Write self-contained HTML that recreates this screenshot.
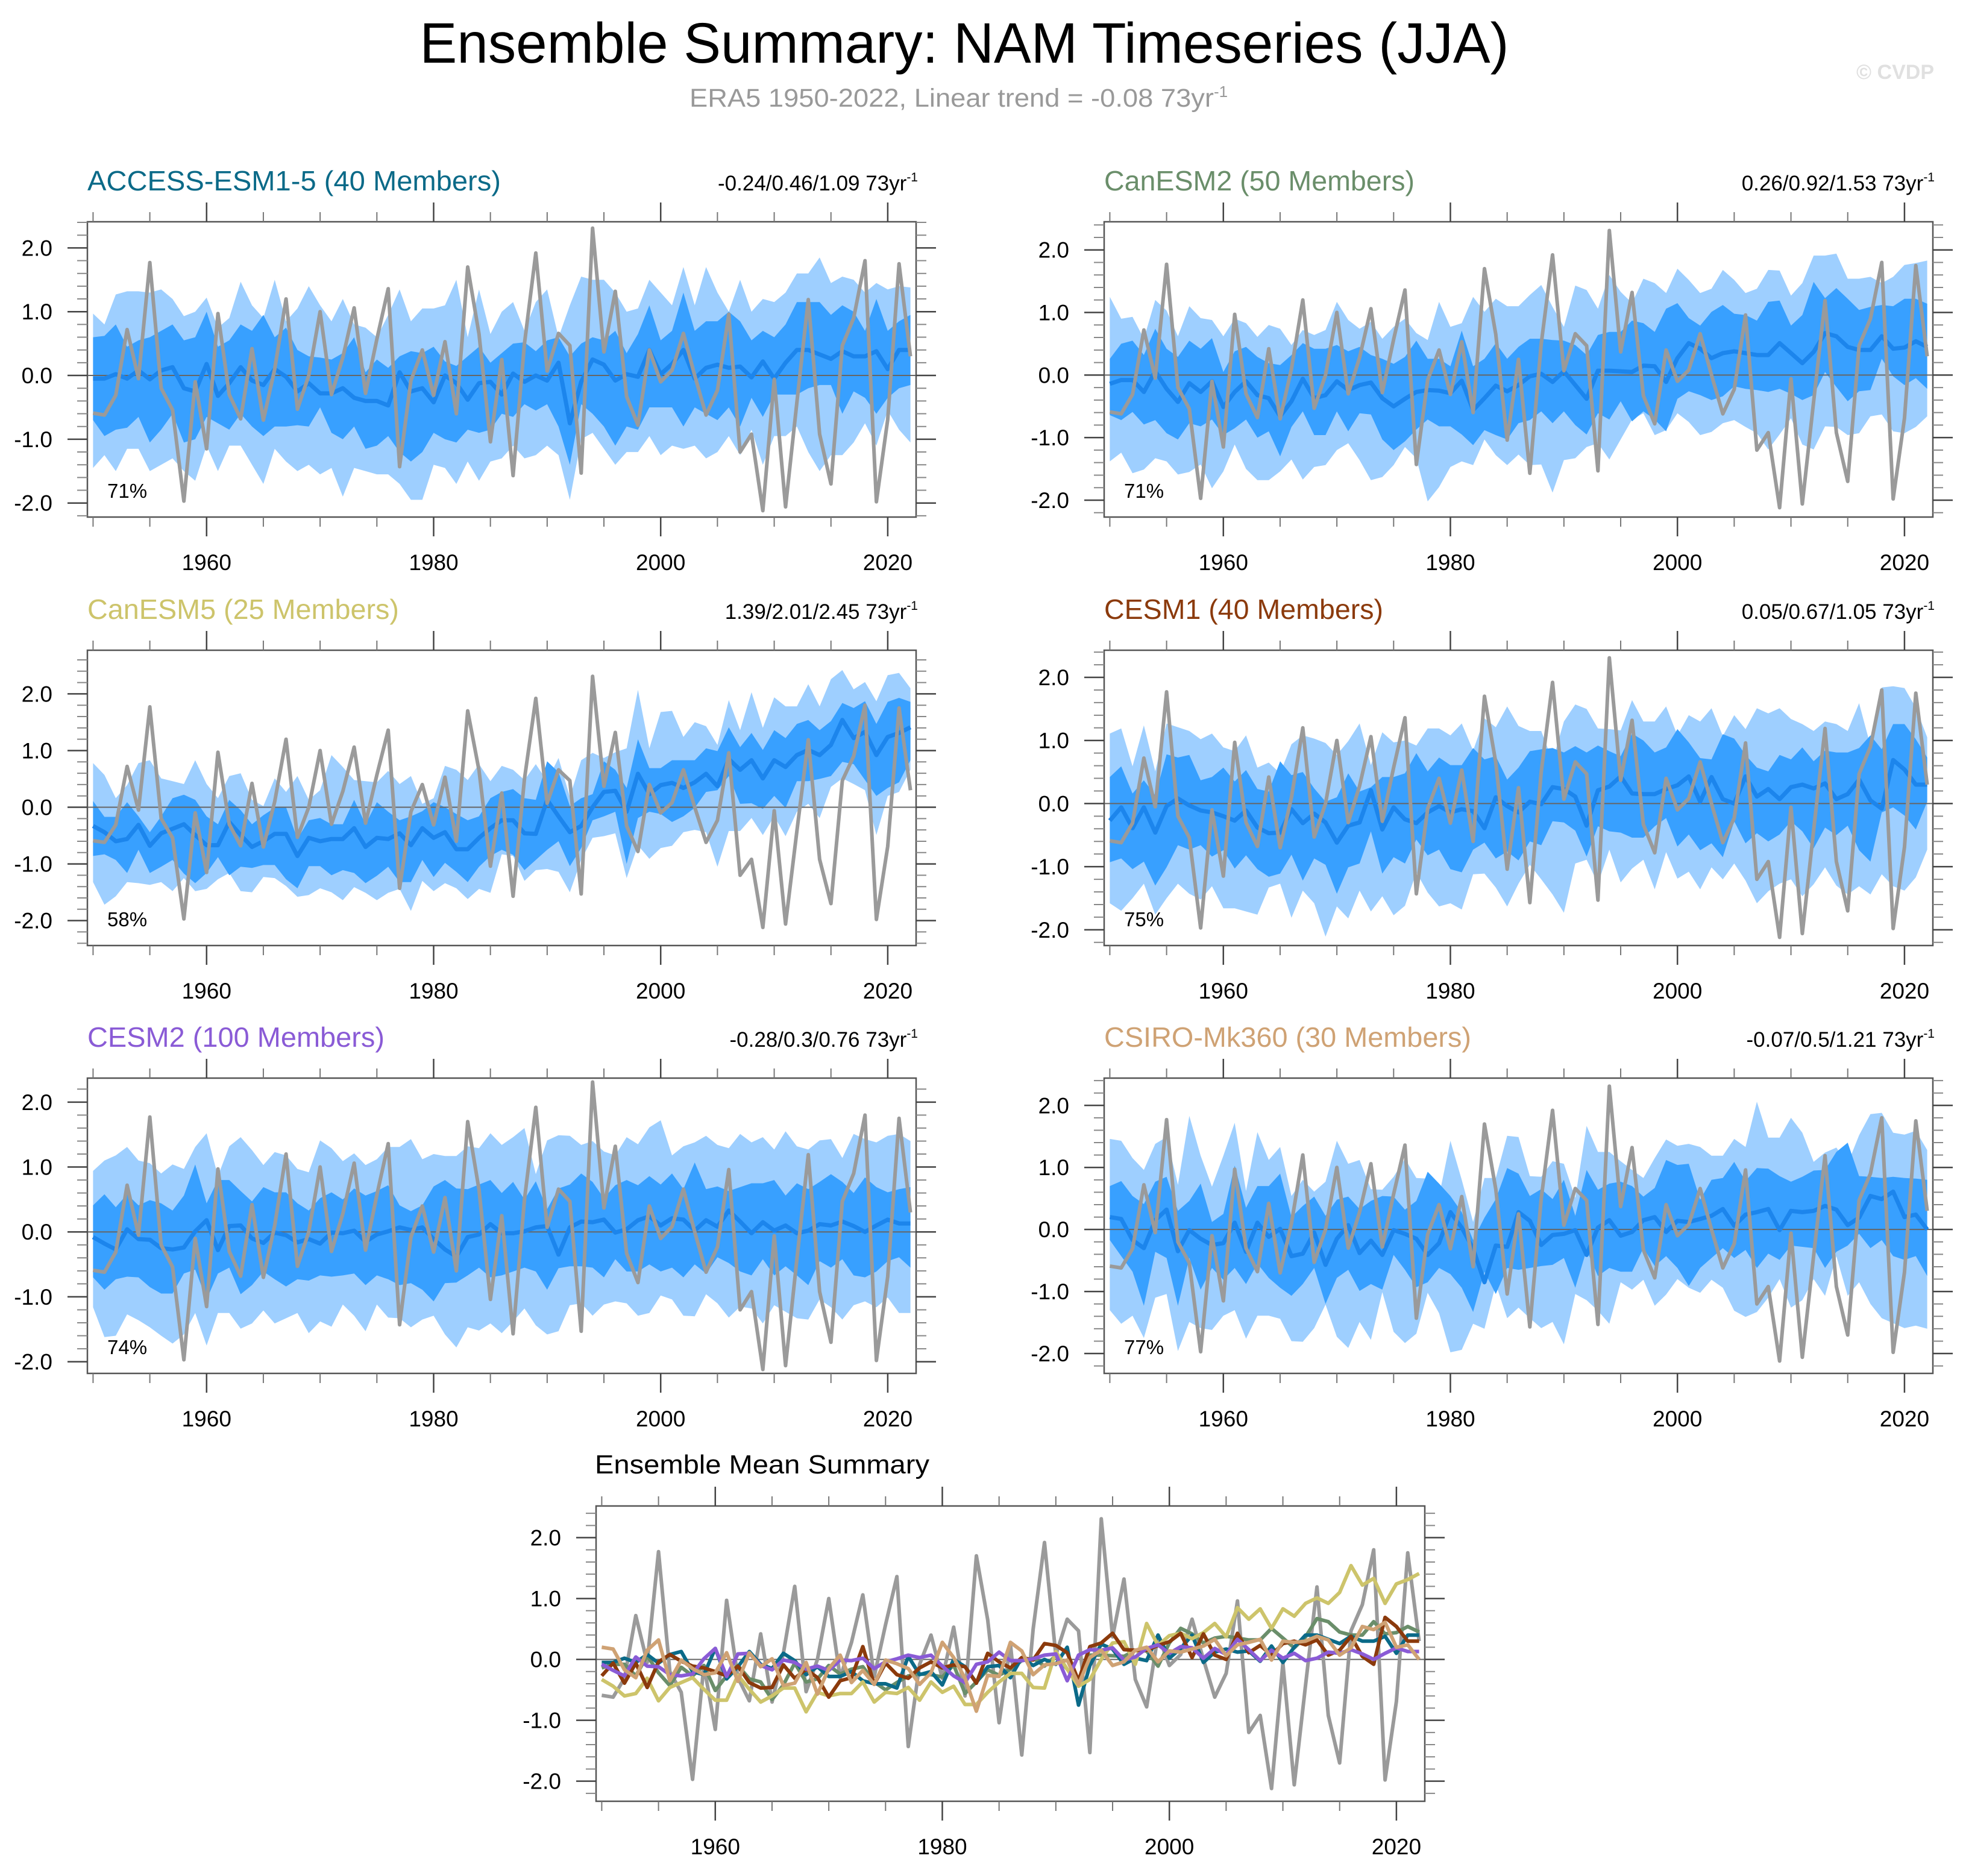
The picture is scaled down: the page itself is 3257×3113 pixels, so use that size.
<!DOCTYPE html>
<html><head><meta charset="utf-8"><title>Ensemble Summary: NAM Timeseries (JJA)</title>
<style>html,body{margin:0;padding:0;background:#fff;}svg{display:block;font-family:"Liberation Sans",Arial,sans-serif;}</style>
</head><body>
<svg id="chart" xmlns="http://www.w3.org/2000/svg" width="3257" height="3113" viewBox="0 0 3257 3113">
<rect x="0" y="0" width="3257" height="3113" fill="#fff"/>
<text x="1600" y="104" text-anchor="middle" font-size="95" textLength="1807" lengthAdjust="spacingAndGlyphs" fill="#000">Ensemble Summary: NAM Timeseries (JJA)</text>
<text x="1144" y="177" font-size="43" fill="#999"><tspan textLength="870" lengthAdjust="spacingAndGlyphs">ERA5 1950-2022, Linear trend = -0.08 73yr</tspan><tspan dy="-16" font-size="26">-1</tspan></text>
<text x="3209" y="131" text-anchor="end" font-size="34" font-weight="bold" fill="#e0e0e0">© CVDP</text>
<g id="plots"></g>
</svg>
<script>
// ---- data ----
const years = [1950,1951,1952,1953,1954,1955,1956,1957,1958,1959,1960,1961,1962,1963,1964,1965,1966,1967,1968,1969,1970,1971,1972,1973,1974,1975,1976,1977,1978,1979,1980,1981,1982,1983,1984,1985,1986,1987,1988,1989,1990,1991,1992,1993,1994,1995,1996,1997,1998,1999,2000,2001,2002,2003,2004,2005,2006,2007,2008,2009,2010,2011,2012,2013,2014,2015,2016,2017,2018,2019,2020,2021,2022];
const era5 = [-0.59,-0.62,-0.31,0.72,-0.05,1.77,-0.2,-0.54,-1.97,-0.1,
-1.15,0.97,-0.3,-0.68,0.42,-0.7,0.1,1.2,-0.53,0.0,
1.0,-0.3,0.28,1.06,-0.28,0.57,1.36,-1.43,-0.08,0.4,
-0.31,0.53,-0.6,1.7,0.65,-1.04,0.25,-1.57,0.5,1.92,
0.07,0.66,0.47,-1.53,2.31,0.37,1.32,-0.33,-0.78,0.4,
-0.1,0.08,0.66,0.0,-0.62,-0.23,0.96,-1.2,-0.92,-2.12,
-0.06,-2.06,-0.42,1.19,-0.92,-1.7,0.47,0.9,1.8,-1.98,
-0.69,1.75,0.3];

// ACCESS-ESM1-5
const accessMean = [-0.05,-0.05,0.02,-0.05,0.08,-0.06,0.08,0.13,-0.2,-0.25,0.18,-0.32,-0.12,0.13,-0.08,-0.15,0.1,-0.02,-0.25,-0.12,-0.28,-0.28,-0.2,-0.35,-0.4,-0.4,-0.47,0.05,-0.25,-0.2,-0.42,0.0,-0.12,-0.38,-0.12,-0.1,-0.3,0.03,-0.1,0.0,-0.08,0.2,-0.75,-0.1,0.25,0.17,-0.08,0.02,-0.02,0.4,0.02,0.18,0.4,-0.05,0.12,0.17,0.12,0.14,-0.03,0.22,-0.05,0.2,0.4,0.4,0.33,0.26,0.38,0.3,0.3,0.38,0.1,0.4,0.4];
const accessMax = [0.97,0.8,1.27,1.32,1.32,1.3,1.35,1.2,0.93,1.0,1.22,0.75,0.9,1.47,1.1,0.9,1.5,0.85,1.05,1.4,1.1,0.85,1.2,0.8,0.75,0.6,0.95,1.35,0.85,1.05,1.05,1.1,1.5,0.6,1.35,0.65,1.0,1.15,0.7,1.15,1.35,0.6,1.1,1.55,1.5,1.5,1.3,1.0,1.05,1.5,1.3,1.1,1.7,1.1,1.7,1.3,1.0,1.5,1.0,1.2,1.15,1.3,1.6,1.6,1.85,1.45,1.55,1.5,1.3,1.45,1.35,1.4,1.38];
const accessP90 = [0.6,0.62,0.8,0.45,0.55,0.6,0.7,0.8,0.55,0.6,1.0,0.45,0.55,0.8,0.7,0.95,0.6,0.75,0.4,0.3,0.28,0.25,0.35,0.6,0.05,0.25,0.12,0.3,0.38,0.35,0.45,0.22,0.15,0.3,0.45,0.2,0.35,0.5,0.52,0.38,0.55,0.6,0.3,0.5,0.6,0.55,0.7,0.35,0.65,1.1,0.55,0.7,1.3,0.7,0.85,0.85,1.0,0.85,0.55,0.7,0.6,0.8,1.15,1.15,1.15,0.95,1.1,1.0,0.7,1.2,0.7,0.85,0.95];
const accessP10 = [-0.7,-0.95,-0.85,-0.82,-0.65,-1.05,-0.85,-0.6,-1.05,-1.0,-0.65,-0.75,-0.85,-0.6,-0.8,-0.95,-0.8,-0.8,-0.78,-0.8,-0.5,-0.9,-1.0,-0.8,-1.15,-1.1,-0.95,-1.2,-1.35,-1.2,-0.9,-1.0,-1.05,-0.85,-0.9,-0.85,-0.6,-0.65,-0.45,-0.55,-0.45,-0.8,-1.4,-0.45,-0.6,-0.8,-1.1,-0.8,-0.85,-0.5,-0.5,-0.5,-0.8,-0.5,-0.6,-0.7,-0.5,-0.8,-0.35,-0.65,-0.3,-0.3,-0.3,-0.2,-0.15,-0.15,-0.6,-0.25,-0.35,-0.6,-0.35,-0.2,-0.15];
const accessMin = [-1.45,-1.25,-1.5,-1.15,-1.15,-1.5,-1.4,-1.3,-1.5,-1.65,-1.1,-1.5,-1.1,-1.1,-1.4,-1.7,-1.15,-1.35,-1.5,-1.4,-1.55,-1.45,-1.9,-1.45,-1.5,-1.55,-1.55,-1.7,-1.95,-1.95,-1.4,-1.45,-1.7,-1.35,-1.65,-1.35,-1.3,-1.1,-1.3,-1.25,-1.1,-1.25,-1.95,-1.0,-0.9,-1.15,-1.4,-1.2,-1.2,-0.95,-1.25,-1.1,-1.15,-1.1,-1.3,-1.2,-0.95,-1.25,-0.85,-1.4,-0.95,-0.95,-0.8,-1.2,-1.5,-1.25,-1.25,-1.05,-0.75,-1.1,-0.55,-0.85,-1.05];

// CanESM2
const canesm2Mean = [-0.14,-0.08,-0.08,-0.27,0.06,-0.22,-0.43,-0.13,-0.27,-0.1,-0.51,-0.27,-0.1,-0.32,-0.37,-0.66,-0.42,-0.06,-0.37,-0.32,-0.1,-0.24,-0.16,-0.12,-0.37,-0.5,-0.38,-0.27,-0.24,-0.25,-0.29,-0.09,-0.56,-0.37,-0.17,-0.26,-0.16,-0.02,0.02,-0.11,0.06,-0.16,-0.38,0.07,0.07,0.06,0.05,0.15,0.14,-0.11,0.27,0.51,0.42,0.27,0.35,0.38,0.35,0.32,0.32,0.51,0.35,0.19,0.37,0.67,0.62,0.45,0.4,0.4,0.62,0.42,0.44,0.54,0.45];
const canesm2Max = [1.25,0.9,0.93,0.58,1.2,1.03,0.62,1.1,0.91,0.88,0.62,0.9,0.83,0.61,0.8,0.74,0.48,0.72,0.64,0.72,1.17,0.88,0.74,0.85,0.58,0.77,0.9,0.67,0.56,1.17,0.77,0.83,1.25,1.01,1.22,1.1,1.1,1.28,1.44,1.09,0.77,1.43,1.36,1.06,1.6,1.33,1.15,1.54,1.47,1.31,1.7,1.52,1.31,1.38,1.68,1.52,1.31,1.38,1.68,1.67,1.27,1.47,1.91,1.91,1.94,1.54,1.54,1.57,1.47,1.57,1.76,1.79,1.83];
const canesm2P90 = [0.26,0.5,0.55,0.32,0.74,0.42,0.29,0.55,0.42,0.59,0.05,0.38,0.45,0.29,0.19,0.16,0.32,0.51,0.42,0.42,0.48,0.38,0.45,0.32,0.26,0.18,0.29,0.55,0.26,0.26,0.14,0.71,0.14,0.26,0.51,0.26,0.45,0.58,0.58,0.56,0.55,0.48,0.32,0.64,0.69,0.69,0.87,0.83,0.69,1.06,1.15,0.91,0.79,1.01,1.12,0.98,0.96,0.87,1.17,1.19,0.79,0.96,1.49,1.23,1.39,1.22,1.04,1.09,1.12,1.1,1.22,1.22,1.14];
const canesm2P10 = [-0.64,-0.72,-0.59,-0.79,-0.72,-0.93,-1.03,-0.77,-0.82,-0.71,-0.96,-0.85,-0.71,-1.0,-0.9,-1.3,-0.83,-0.58,-0.96,-0.96,-0.58,-0.9,-0.61,-0.63,-1.03,-1.2,-1.06,-0.87,-0.71,-0.82,-0.82,-0.95,-1.12,-0.88,-0.96,-1.03,-0.77,-0.72,-0.58,-0.77,-0.58,-0.8,-0.95,-0.61,-0.71,-0.42,-0.74,-0.58,-0.71,-0.9,-0.38,-0.26,-0.32,-0.4,-0.34,-0.18,-0.22,-0.24,-0.27,-0.22,-0.3,-0.4,-0.32,0.05,-0.19,-0.42,-0.26,-0.24,0.26,-0.02,-0.16,-0.05,-0.22];
const canesm2Min = [-1.38,-1.24,-1.57,-1.51,-1.33,-1.38,-1.59,-1.55,-1.43,-1.81,-1.54,-1.11,-1.5,-1.68,-1.68,-1.54,-1.35,-1.67,-1.47,-1.44,-1.2,-1.09,-1.36,-1.68,-1.63,-1.44,-1.15,-1.33,-2.02,-1.79,-1.47,-1.38,-1.44,-1.03,-1.28,-1.44,-1.27,-1.44,-1.43,-1.88,-1.36,-1.33,-1.15,-1.09,-1.35,-1.03,-0.71,-0.61,-0.96,-0.88,-0.61,-0.75,-0.96,-0.91,-0.77,-0.72,-0.83,-0.93,-1.19,-0.95,-0.69,-1.11,-1.19,-0.82,-0.83,-0.96,-0.93,-0.66,-0.63,-0.9,-0.93,-0.83,-0.66];

// CanESM5
const canesm5Mean = [-0.33,-0.44,-0.6,-0.56,-0.31,-0.68,-0.46,-0.38,-0.3,-0.49,-0.67,-0.67,-0.26,-0.49,-0.7,-0.6,-0.47,-0.47,-0.86,-0.54,-0.6,-0.56,-0.56,-0.37,-0.7,-0.54,-0.56,-0.46,-0.67,-0.37,-0.54,-0.44,-0.74,-0.74,-0.54,-0.37,-0.23,-0.23,-0.46,-0.47,0.13,-0.16,-0.44,-0.33,0.0,0.27,0.29,-0.08,0.59,0.23,0.39,0.43,0.34,0.44,0.59,0.37,0.85,0.66,0.83,0.51,0.83,0.71,0.92,1.01,0.92,1.1,1.54,1.22,1.33,0.92,1.24,1.31,1.41];
const canesm5Max = [0.78,0.57,0.16,0.39,0.78,0.83,0.51,0.46,0.41,0.83,0.41,0.16,0.55,0.6,0.13,0.02,0.51,0.27,0.55,0.13,0.3,0.92,0.71,0.48,0.46,0.44,0.64,0.41,0.55,0.06,0.16,0.73,0.66,0.48,0.76,0.46,0.73,0.66,0.48,0.76,0.46,0.87,0.18,0.83,0.96,0.87,0.97,1.04,2.07,1.04,1.68,1.7,1.24,1.5,1.43,1.1,1.89,1.36,2.03,1.4,1.94,1.78,1.78,2.17,1.78,2.26,2.42,2.08,2.21,1.87,2.33,2.37,2.1];
const canesm5P90 = [0.11,-0.17,-0.17,0.09,-0.16,-0.44,-0.16,0.16,0.22,0.13,-0.16,-0.3,0.13,-0.05,-0.3,-0.14,-0.01,0.0,-0.56,-0.23,-0.19,-0.3,-0.3,0.13,-0.3,0.09,-0.08,-0.23,-0.16,-0.07,0.09,0.0,-0.12,-0.23,-0.16,0.16,0.27,0.32,0.16,0.13,0.81,0.62,0.02,0.16,0.23,0.81,0.66,0.34,1.2,0.69,0.69,0.83,0.83,0.83,1.04,0.99,1.41,1.06,1.31,1.01,1.36,1.22,1.47,1.54,1.36,1.52,1.84,1.75,1.87,1.47,1.86,1.93,1.86];
const canesm5P10 = [-0.86,-0.83,-0.93,-1.16,-0.75,-1.16,-1.05,-0.93,-1.17,-1.34,-1.16,-0.88,-1.2,-1.05,-1.07,-1.02,-1.02,-1.27,-1.43,-1.04,-1.04,-1.2,-1.11,-1.16,-1.34,-1.21,-1.05,-1.32,-1.32,-0.93,-1.23,-0.98,-1.14,-1.32,-1.05,-0.86,-0.75,-0.84,-1.11,-0.93,-0.75,-0.6,-1.04,-0.72,-0.23,-0.16,-0.08,-1.0,-0.19,-0.08,-0.12,-0.26,-0.16,-0.01,0.27,0.3,0.55,0.06,0.07,-0.03,0.2,-0.01,0.46,0.46,0.5,0.55,0.8,0.76,0.48,0.2,0.34,0.44,0.83];
const canesm5Min = [-1.32,-1.72,-1.57,-1.32,-1.34,-1.37,-1.32,-1.48,-1.25,-1.48,-1.44,-1.27,-1.16,-1.48,-1.5,-1.23,-1.25,-1.39,-1.58,-1.55,-1.43,-1.5,-1.64,-1.41,-1.51,-1.64,-1.51,-1.44,-1.83,-1.3,-1.48,-1.34,-1.43,-1.62,-1.44,-1.51,-0.83,-0.86,-1.3,-1.11,-1.09,-1.14,-1.5,-0.93,-0.54,-0.51,-0.46,-1.25,-0.67,-0.91,-0.72,-0.68,-0.44,-0.4,-0.44,-1.05,-0.42,-0.42,-0.19,-0.49,-0.16,-0.51,-0.08,0.06,-0.19,0.36,0.51,0.41,0.3,-0.49,0.2,0.27,0.66];

// CESM1
const cesm1Mean = [-0.27,-0.06,-0.39,-0.06,-0.46,-0.04,0.08,-0.03,-0.11,-0.14,-0.2,-0.27,-0.11,-0.38,-0.47,-0.46,-0.09,-0.31,-0.16,-0.3,-0.62,-0.35,-0.3,0.21,-0.41,-0.06,-0.25,-0.31,-0.14,-0.04,-0.14,-0.09,-0.12,-0.39,0.1,-0.04,-0.14,0.03,-0.01,0.26,0.23,0.11,-0.35,0.21,0.27,0.43,0.16,0.15,0.15,0.23,0.29,0.43,0.03,0.42,0.07,0.0,0.43,0.11,0.23,0.07,0.26,0.3,0.24,0.32,0.07,0.15,0.38,0.05,-0.08,0.69,0.54,0.3,0.3];
const cesm1Max = [1.11,1.19,0.59,1.24,0.51,1.27,1.21,1.15,1.02,1.11,0.89,0.83,1.08,0.57,0.65,0.48,0.94,1.08,1.03,0.96,0.77,0.99,1.27,0.61,1.13,0.97,1.0,0.92,1.19,1.19,1.08,1.27,0.84,1.35,1.21,1.54,1.23,1.15,1.15,0.67,1.3,1.57,1.5,1.19,1.18,1.16,1.64,1.3,1.3,1.54,1.08,1.4,1.3,1.51,1.07,1.4,1.18,1.51,1.43,1.51,1.34,1.26,1.15,1.3,1.26,1.15,1.59,0.92,1.84,1.86,1.83,1.52,1.05];
const cesm1P90 = [0.42,0.59,0.16,0.37,0.13,0.78,0.73,0.77,0.37,0.42,0.57,0.35,0.53,0.23,0.19,0.67,0.45,0.5,0.24,0.03,0.1,0.48,0.19,0.26,0.42,0.42,0.48,0.8,0.51,0.73,0.61,0.61,0.88,0.7,0.75,0.38,0.57,0.83,0.86,0.88,0.81,0.91,0.81,0.92,0.83,0.75,1.11,1.0,0.81,0.89,1.18,0.97,0.72,0.7,1.1,1.03,0.77,0.57,0.51,0.77,0.7,0.89,0.67,0.84,0.81,0.81,0.88,1.08,0.86,1.26,1.26,1.02,0.73];
const cesm1P10 = [-0.93,-0.87,-1.04,-0.92,-1.3,-1.01,-0.66,-0.73,-0.66,-0.84,-0.74,-1.03,-0.82,-1.04,-1.16,-1.11,-0.81,-1.22,-0.87,-0.97,-1.43,-1.01,-0.95,-0.44,-1.11,-0.85,-0.95,-0.57,-0.82,-0.73,-1.04,-1.09,-0.73,-0.62,-0.87,-0.76,-0.9,-0.6,-0.66,-0.28,-0.3,-0.43,-0.84,-0.36,-0.44,-0.46,-0.54,-0.54,-0.36,-0.23,-0.68,-0.49,-0.74,-0.63,-0.85,-0.28,-0.63,-0.47,-0.6,-0.49,-0.28,-0.44,-0.71,-0.38,-0.5,-0.35,-0.74,-0.92,-0.14,-0.06,-0.19,-0.41,0.03];
const cesm1Min = [-1.58,-1.7,-1.5,-1.27,-1.76,-1.5,-1.27,-1.43,-1.52,-1.31,-1.66,-1.66,-1.71,-1.76,-1.33,-1.27,-1.81,-1.38,-1.58,-2.11,-1.63,-1.82,-1.38,-1.71,-1.47,-1.77,-1.62,-1.09,-1.41,-1.63,-1.58,-1.68,-1.12,-1.11,-1.33,-1.63,-1.27,-0.97,-1.2,-1.44,-1.73,-0.95,-0.89,-1.27,-0.73,-1.25,-1.03,-0.89,-1.36,-0.77,-1.19,-1.08,-1.36,-1.01,-1.2,-0.95,-1.22,-1.58,-1.39,-1.27,-1.2,-1.47,-1.28,-1.01,-1.3,-1.44,-1.31,-1.44,-1.12,-1.31,-1.38,-1.17,-0.73];

// CESM2
const cesm2Mean = [-0.08,-0.18,-0.27,0.04,-0.11,-0.12,-0.25,-0.27,-0.24,0.01,0.18,-0.28,0.09,0.1,-0.1,-0.17,-0.01,-0.05,-0.16,-0.11,-0.18,-0.01,-0.02,0.02,-0.15,-0.04,0.01,0.07,0.03,0.07,-0.11,-0.27,-0.38,-0.08,-0.04,0.12,-0.02,-0.02,0.01,0.07,0.09,-0.35,0.07,0.16,0.15,0.19,-0.01,0.04,0.18,0.24,0.1,0.21,0.19,0.02,0.18,0.08,0.33,0.16,-0.02,0.15,0.02,0.1,-0.02,0.02,0.12,0.1,0.16,0.09,0.0,0.1,0.19,0.13,0.13];
const cesm2Max = [0.94,1.1,1.18,1.31,1.1,1.06,0.9,1.04,0.97,1.31,1.52,0.86,1.32,1.46,1.26,1.03,1.23,1.18,0.97,0.92,1.41,1.29,1.09,1.21,1.03,1.12,1.31,1.31,1.43,1.12,1.2,1.17,1.17,1.32,1.29,1.52,1.34,1.46,1.6,0.89,1.41,1.49,1.48,1.34,1.4,1.24,1.18,1.46,1.35,1.61,1.72,1.18,1.32,1.38,1.48,1.34,1.29,1.51,1.38,1.46,1.27,1.55,1.32,1.27,1.41,1.43,1.14,1.51,1.43,1.38,1.48,1.51,1.4];
const cesm2P90 = [0.41,0.58,0.38,0.58,0.41,0.49,0.44,0.33,0.56,1.04,0.44,0.8,0.8,0.63,0.47,0.69,0.61,0.61,0.44,0.33,0.52,0.61,0.5,0.67,0.56,0.63,0.72,0.41,0.32,0.41,0.7,0.8,0.67,0.66,0.73,0.8,0.6,0.77,0.5,0.78,0.35,0.67,0.73,0.9,0.77,0.52,0.72,0.8,0.72,0.86,0.73,0.9,0.66,1.07,0.66,0.7,0.63,0.69,0.75,0.75,0.8,0.56,0.75,0.66,0.77,0.89,0.77,0.6,0.84,0.69,0.61,0.66,0.69];
const cesm2P10 = [-0.7,-0.89,-0.73,-0.69,-0.7,-0.85,-0.95,-0.95,-0.64,-0.58,-1.04,-0.64,-0.55,-0.96,-0.82,-0.61,-0.73,-0.84,-0.73,-0.75,-0.67,-0.69,-0.67,-0.64,-0.82,-0.67,-0.73,-0.82,-0.79,-0.89,-1.07,-0.79,-0.78,-0.67,-0.55,-0.7,-0.67,-0.61,-0.55,-0.61,-0.89,-0.56,-0.53,-0.53,-0.55,-0.7,-0.42,-0.61,-0.61,-0.5,-0.61,-0.55,-0.7,-0.5,-0.64,-0.39,-0.48,-0.61,-0.67,-0.42,-0.67,-0.53,-0.67,-0.82,-0.45,-0.55,-0.42,-0.67,-0.7,-0.61,-0.45,-0.39,-0.55];
const cesm2Min = [-1.16,-1.62,-1.6,-1.27,-1.36,-1.47,-1.6,-1.72,-1.58,-1.25,-1.75,-1.25,-1.25,-1.49,-1.41,-1.21,-1.41,-1.33,-1.25,-1.56,-1.38,-1.46,-1.12,-1.29,-1.53,-1.12,-1.32,-1.33,-1.47,-1.35,-1.29,-1.58,-1.78,-1.47,-1.52,-1.41,-1.56,-1.38,-1.18,-1.44,-1.58,-1.53,-1.13,-1.1,-1.29,-1.12,-1.07,-1.1,-1.29,-1.25,-0.98,-1.04,-1.29,-1.3,-0.96,-1.1,-1.32,-1.15,-1.18,-1.41,-1.13,-1.23,-1.33,-1.35,-1.04,-1.16,-1.35,-1.13,-1.07,-1.16,-1.01,-1.25,-1.25];

// CSIRO-Mk360
const csiroMean = [0.2,0.17,-0.17,-0.3,0.15,0.32,-0.35,-0.01,-0.15,-0.25,-0.22,0.11,-0.36,0.11,-0.12,0.01,-0.43,-0.39,-0.05,-0.57,-0.15,0.07,-0.38,-0.18,-0.41,-0.01,-0.07,-0.15,-0.41,-0.22,0.28,0.03,-0.31,-0.85,-0.26,-0.28,0.28,0.14,-0.25,-0.09,-0.07,-0.01,-0.41,0.03,0.15,-0.1,-0.04,0.15,0.2,-0.04,0.14,0.12,0.17,0.22,0.33,0.06,0.24,0.28,0.33,-0.01,0.3,0.28,0.3,0.38,0.32,0.07,0.19,0.54,0.49,0.61,0.2,0.24,0.0];
const csiroMax = [1.46,1.43,1.15,0.96,1.38,1.49,0.72,1.83,1.19,0.69,1.19,1.72,0.62,1.57,1.12,1.33,0.54,0.8,0.61,0.77,1.43,1.06,1.12,0.65,0.64,0.85,1.14,0.83,0.82,0.54,1.43,0.8,0.12,0.83,0.83,1.51,1.49,0.86,0.85,1.1,1.06,0.51,1.67,1.25,1.25,1.1,0.96,0.83,1.15,1.45,1.35,1.38,1.33,1.19,1.19,1.46,1.33,2.06,1.48,1.48,1.8,1.56,1.09,1.24,1.32,1.06,1.52,1.86,1.88,1.56,1.53,1.59,1.28];
const csiroP90 = [0.7,0.78,0.54,0.41,0.77,0.85,0.3,0.46,0.74,0.12,0.25,1.03,0.35,0.7,0.7,0.9,0.2,0.38,0.53,0.22,0.48,0.53,0.33,0.46,0.54,0.53,0.32,0.46,0.93,0.74,0.54,0.28,-0.17,0.19,0.49,0.99,0.9,0.54,0.65,0.49,0.8,0.22,0.96,0.64,0.74,0.77,0.7,0.53,0.67,1.12,1.04,1.06,0.48,0.8,0.83,1.09,0.78,0.99,0.98,0.86,0.77,0.85,0.95,0.96,1.25,1.4,0.86,0.85,0.83,0.85,0.83,0.82,0.8];
const csiroP10 = [-0.17,-0.43,-0.68,-1.23,-0.36,-0.46,-1.23,-0.46,-0.97,-0.62,-0.81,-0.62,-0.88,-0.55,-0.78,-0.94,-1.07,-0.88,-0.62,-1.2,-0.78,-0.65,-0.99,-0.88,-0.97,-0.41,-0.65,-0.93,-0.85,-0.62,-0.72,-0.94,-1.33,-0.68,-1.04,-0.62,-0.65,-0.62,-0.59,-0.57,-0.46,-0.94,-0.33,-0.75,-0.62,-0.68,-0.68,-0.3,-0.59,-0.43,-0.62,-0.91,-0.62,-0.46,-0.3,-0.46,-0.33,-0.62,-0.39,-0.49,-0.26,-0.28,-0.3,-0.62,-0.36,-0.26,-0.07,-0.3,-0.17,-0.43,-0.49,-0.43,-0.75];
const csiroMin = [-1.3,-1.52,-1.39,-1.75,-1.1,-1.04,-1.96,-1.49,-1.59,-1.62,-1.39,-1.3,-1.76,-1.39,-1.39,-1.44,-1.8,-1.81,-1.59,-1.21,-1.73,-1.91,-1.49,-1.78,-1.01,-1.65,-1.83,-1.68,-1.02,-1.35,-1.98,-1.94,-1.52,-1.6,-0.88,-1.43,-1.26,-1.43,-1.59,-1.49,-1.85,-1.04,-1.14,-1.31,-1.52,-0.85,-0.97,-0.81,-1.23,-1.05,-0.8,-0.94,-1.02,-0.81,-0.94,-1.31,-1.41,-1.33,-1.1,-0.8,-1.26,-1.14,-0.8,-1.07,-0.43,-1.07,-0.85,-1.2,-1.43,-1.51,-1.59,-1.55,-1.6];

// panel labels / trends / percents
const modelNames = ["ACCESS-ESM1-5 (40 Members)","CanESM2 (50 Members)","CanESM5 (25 Members)","CESM1 (40 Members)","CESM2 (100 Members)","CSIRO-Mk360 (30 Members)"];
const trendLabels = ["-0.24/0.46/1.09 73yr","0.26/0.92/1.53 73yr","1.39/2.01/2.45 73yr","0.05/0.67/1.05 73yr","-0.28/0.3/0.76 73yr","-0.07/0.5/1.21 73yr"];
const pctLabels = ["71%","71%","58%","75%","74%","77%"];
const xTickYears = [1960,1980,2000,2020];
const yTickValues = [-2,-1,0,1,2];

const seriesMean = [accessMean,canesm2Mean,canesm5Mean,cesm1Mean,cesm2Mean,csiroMean];
const seriesMax = [accessMax,canesm2Max,canesm5Max,cesm1Max,cesm2Max,csiroMax];
const seriesP90 = [accessP90,canesm2P90,canesm5P90,cesm1P90,cesm2P90,csiroP90];
const seriesP10 = [accessP10,canesm2P10,canesm5P10,cesm1P10,cesm2P10,csiroP10];
const seriesMin = [accessMin,canesm2Min,canesm5Min,cesm1Min,cesm2Min,csiroMin];

// ---- layout (not data) ----
const W = 1375, H = 490;
const modelColors = ["#0B6A88","#6A8E6A","#CDC46B","#8B3A0C","#8A5BD6","#CFA274"];
const titleWidths = [686,515,517,463,493,609];
const panels = [
  {x:145,y:368,ymin:-2.22,ymax:2.41},
  {x:1832,y:368,ymin:-2.27,ymax:2.45},
  {x:145,y:1079,ymin:-2.44,ymax:2.77},
  {x:1832,y:1079,ymin:-2.25,ymax:2.43},
  {x:145,y:1789,ymin:-2.18,ymax:2.37},
  {x:1832,y:1789,ymin:-2.32,ymax:2.44}
];
const summaryPanel = {x:989,y:2499,ymin:-2.33,ymax:2.52};

const NS = "http://www.w3.org/2000/svg";
const root = document.getElementById("plots");
function mk(tag, attrs, parent){
  const e = document.createElementNS(NS, tag);
  for (const k in attrs) e.setAttribute(k, attrs[k]);
  (parent||root).appendChild(e);
  return e;
}
function xScale(p, yr){ return p.x + (yr - 1949.5) / 73 * W; }
function yScale(p, v){ return p.y + (p.ymax - v) / (p.ymax - p.ymin) * H; }
function linePts(p, arr){
  const n = Math.min(arr.length, years.length);
  const pts = [];
  for (let i = 0; i < n; i++) pts.push(xScale(p, years[i]).toFixed(1) + "," + yScale(p, arr[i]).toFixed(1));
  return pts;
}
function bandPts(p, hi, lo){
  const a = linePts(p, hi);
  const b = linePts(p, lo).reverse();
  return a.concat(b).join(" ");
}

function drawAxes(p, g){
  const frame = mk("rect", {x:p.x, y:p.y, width:W, height:H, fill:"none", stroke:"#555", "stroke-width":2.5}, g);
  
  
  for (let yr = 1950; yr <= 2020; yr += 5){
    const x = xScale(p, yr);
    const major = xTickYears.indexOf(yr) >= 0;
    const len = major ? 32 : 16;
    const t1 = mk("line", {x1:x, x2:x, y1:p.y, y2:p.y - len, stroke: major ? "#444" : "#777", "stroke-width": major ? 2.5 : 2}, g);
    
    
    const t2 = mk("line", {x1:x, x2:x, y1:p.y + H, y2:p.y + H + len, stroke: major ? "#444" : "#777", "stroke-width": major ? 2.5 : 2}, g);
    
    
  }
  for (const yr of xTickYears){
    const lab = mk("text", {x:xScale(p, yr), y:p.y + H + 88, "text-anchor":"middle", "font-size":37, fill:"#000"}, g);
    lab.textContent = String(yr);
    
    
  }
  const start = Math.ceil(p.ymin / 0.2 - 1e-6), end = Math.floor(p.ymax / 0.2 + 1e-6);
  for (let k = start; k <= end; k++){
    const v = k * 0.2;
    const y = yScale(p, v);
    const major = Math.abs(v - Math.round(v)) < 1e-6;
    const len = major ? 33 : 17;
    const l1 = mk("line", {x1:p.x, x2:p.x - len, y1:y, y2:y, stroke: major ? "#444" : "#888", "stroke-width": major ? 2.5 : 2}, g);
    
    
    const l2 = mk("line", {x1:p.x + W, x2:p.x + W + len, y1:y, y2:y, stroke: major ? "#444" : "#888", "stroke-width": major ? 2.5 : 2}, g);
    
    
  }
  for (const v of yTickValues){
    const lab = mk("text", {x:p.x - 58, y:yScale(p, v) + 13, "text-anchor":"end", "font-size":37, fill:"#000"}, g);
    lab.textContent = v.toFixed(1);
    
    
  }
}
function zeroLine(p, g){
  const z = mk("line", {x1:p.x, x2:p.x + W, y1:yScale(p, 0), y2:yScale(p, 0), stroke:"#666", "stroke-width":2}, g);
  
  
}

panels.forEach(function(p, m){
  const g = mk("g", {});
  
  
  const clip = mk("clipPath", {id:"clip" + m}, g);
  mk("rect", {x:p.x, y:p.y, width:W, height:H}, clip);
  const inner = mk("g", {"clip-path":"url(#clip" + m + ")"}, g);
  
  

  const outer = mk("polygon", {points:bandPts(p, seriesMax[m], seriesMin[m]), fill:"#9ECFFF"}, inner);
  
  
  const innerBand = mk("polygon", {points:bandPts(p, seriesP90[m], seriesP10[m]), fill:"#38A0FF"}, inner);
  
  
  zeroLine(p, inner);
  const meanLine = mk("polyline", {points:linePts(p, seriesMean[m]).join(" "), fill:"none", stroke:"#1C85EC", "stroke-width":7, "stroke-linejoin":"round"}, inner);
  
  
  const obs = mk("polyline", {points:linePts(p, era5).join(" "), fill:"none", stroke:"#9A9A9A", "stroke-width":6, "stroke-linejoin":"round"}, inner);
  
  

  drawAxes(p, g);

  const title = mk("text", {x:p.x, y:p.y - 52, "font-size":46, fill:modelColors[m], textLength:titleWidths[m], lengthAdjust:"spacingAndGlyphs"}, g);
  title.textContent = modelNames[m];
  
  

  const tr = mk("text", {x:p.x + W + 3, y:p.y - 52, "text-anchor":"end", "font-size":35, fill:"#000"}, g);
  
  
  const t1 = mk("tspan", {}, tr); t1.textContent = trendLabels[m];
  const t2 = mk("tspan", {dy:-15, "font-size":21}, tr); t2.textContent = "-1";

  const pc = mk("text", {x:p.x + 33, y:p.y + H - 32, "font-size":33, fill:"#000"}, g);
  pc.textContent = pctLabels[m];
  
  
});

(function(){
  const p = summaryPanel;
  const g = mk("g", {});
  
  
  const clip = mk("clipPath", {id:"clipS"}, g);
  mk("rect", {x:p.x, y:p.y, width:W, height:H}, clip);
  const inner = mk("g", {"clip-path":"url(#clipS)"}, g);
  zeroLine(p, inner);
  const obs = mk("polyline", {points:linePts(p, era5).join(" "), fill:"none", stroke:"#9A9A9A", "stroke-width":6, "stroke-linejoin":"round"}, inner);
  
  
  const order = [1,0,2,3,4,5];
  order.forEach(function(m){
    const ln = mk("polyline", {points:linePts(p, seriesMean[m]).join(" "), fill:"none", stroke:modelColors[m], "stroke-width":6, "stroke-linejoin":"round"}, inner);
    
    
  });
  drawAxes(p, g);
  const title = mk("text", {x:p.x - 2, y:p.y - 54, "font-size":44, fill:"#000", textLength:555, lengthAdjust:"spacingAndGlyphs"}, g);
  title.textContent = "Ensemble Mean Summary";
  
  
})();
</script>
</body></html>
